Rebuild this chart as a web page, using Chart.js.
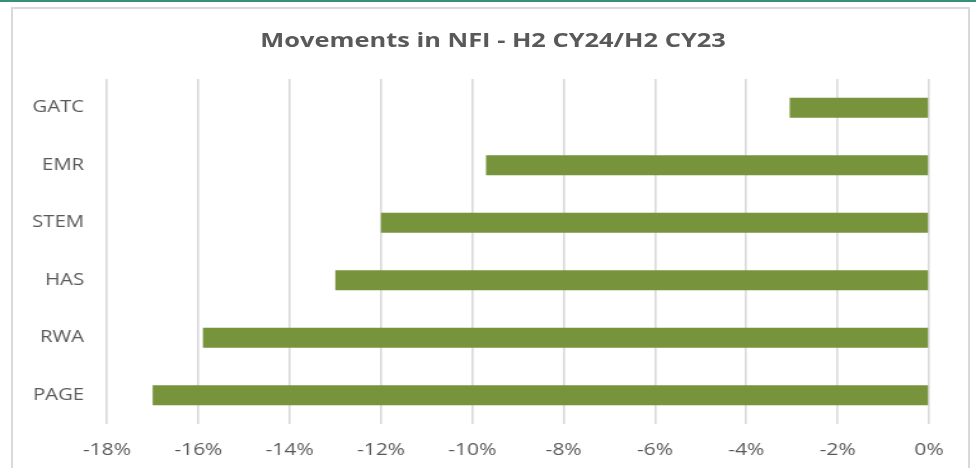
<!DOCTYPE html>
<html>
<head>
<meta charset="utf-8">
<script src="https://cdn.jsdelivr.net/npm/chart.js@4"></script>
<style>
  html, body { margin: 0; padding: 0; background: #fff; }
  .wrap { position: relative; width: 976px; height: 468px; overflow: hidden; }
  .topline { position: absolute; left: 0; top: 0; width: 976px; height: 2px; background: #3a8f78; }
  .frame { position: absolute; left: 11px; top: 7px; width: 959px; height: 480px; border: 2px solid #d9d9d9; box-sizing: border-box; }
  /* the reference image is stretched sideways, so the chart is too */
  .stretch { position: absolute; left: 0; top: 0; width: 768px; height: 468px; transform-origin: 0 0; transform: scaleX(1.2708); }
  .title { position: absolute; left: 0; top: 28px; width: 776px; line-height: 24px; text-align: center;
           font-family: 'Open Sans'; font-weight: bold; font-size: 20px; color: #595959; }
  canvas { position: absolute; left: 0; top: 0; }
</style>
</head>
<body>
<div class="wrap">
  <div class="topline"></div>
  <div class="frame"></div>
  <div class="stretch">
    <div class="title">Movements in NFI - H2 CY24/H2 CY23</div>
    <canvas id="nfiChart" width="768" height="468"></canvas>
  </div>
</div>
<script>
// data
const categories = ['GATC', 'EMR', 'STEM', 'HAS', 'RWA', 'PAGE'];
const movement = [-3.05, -9.7, -12.0, -13.0, -15.9, -17.0];
const tickMin = -18;
const tickMax = 0;
const tickStep = 2;

const grey = '#595959';

const ctx = document.getElementById('nfiChart').getContext('2d');

new Chart(ctx, {
    type: 'bar',
    data: {
        labels: categories,
        datasets: [
            {
                label: 'Movement',
                data: movement,
                backgroundColor: '#77933c',
                borderWidth: 0,
                barPercentage: 0.35,
                categoryPercentage: 1
            }
        ]
    },
    options: {
        indexAxis: 'y',
        responsive: false,
        animation: false,
        layout: {
            padding: { left: 0, right: 37, top: 79, bottom: 0 }
        },
        plugins: {
            legend: { display: false },
            tooltip: { enabled: false },
            title: { display: false }
        },
        scales: {
            x: {
                min: tickMin,
                max: tickMax,
                ticks: {
                    stepSize: tickStep,
                    color: grey,
                    font: { family: 'Open Sans', size: 16.5 },
                    padding: 16,
                    callback: v => v + '%'
                },
                grid: {
                    color: '#d9d9d9',
                    lineWidth: 1.6,
                    drawTicks: false
                },
                border: { display: false },
                afterFit: scale => { scale.height = 44; }
            },
            y: {
                ticks: {
                    color: grey,
                    font: { family: 'Open Sans', size: 16 },
                    padding: 10
                },
                grid: { display: false },
                border: { display: false },
                afterFit: scale => { scale.width = 84.2; }
            }
        }
    }
});
</script>
</body>
</html>
